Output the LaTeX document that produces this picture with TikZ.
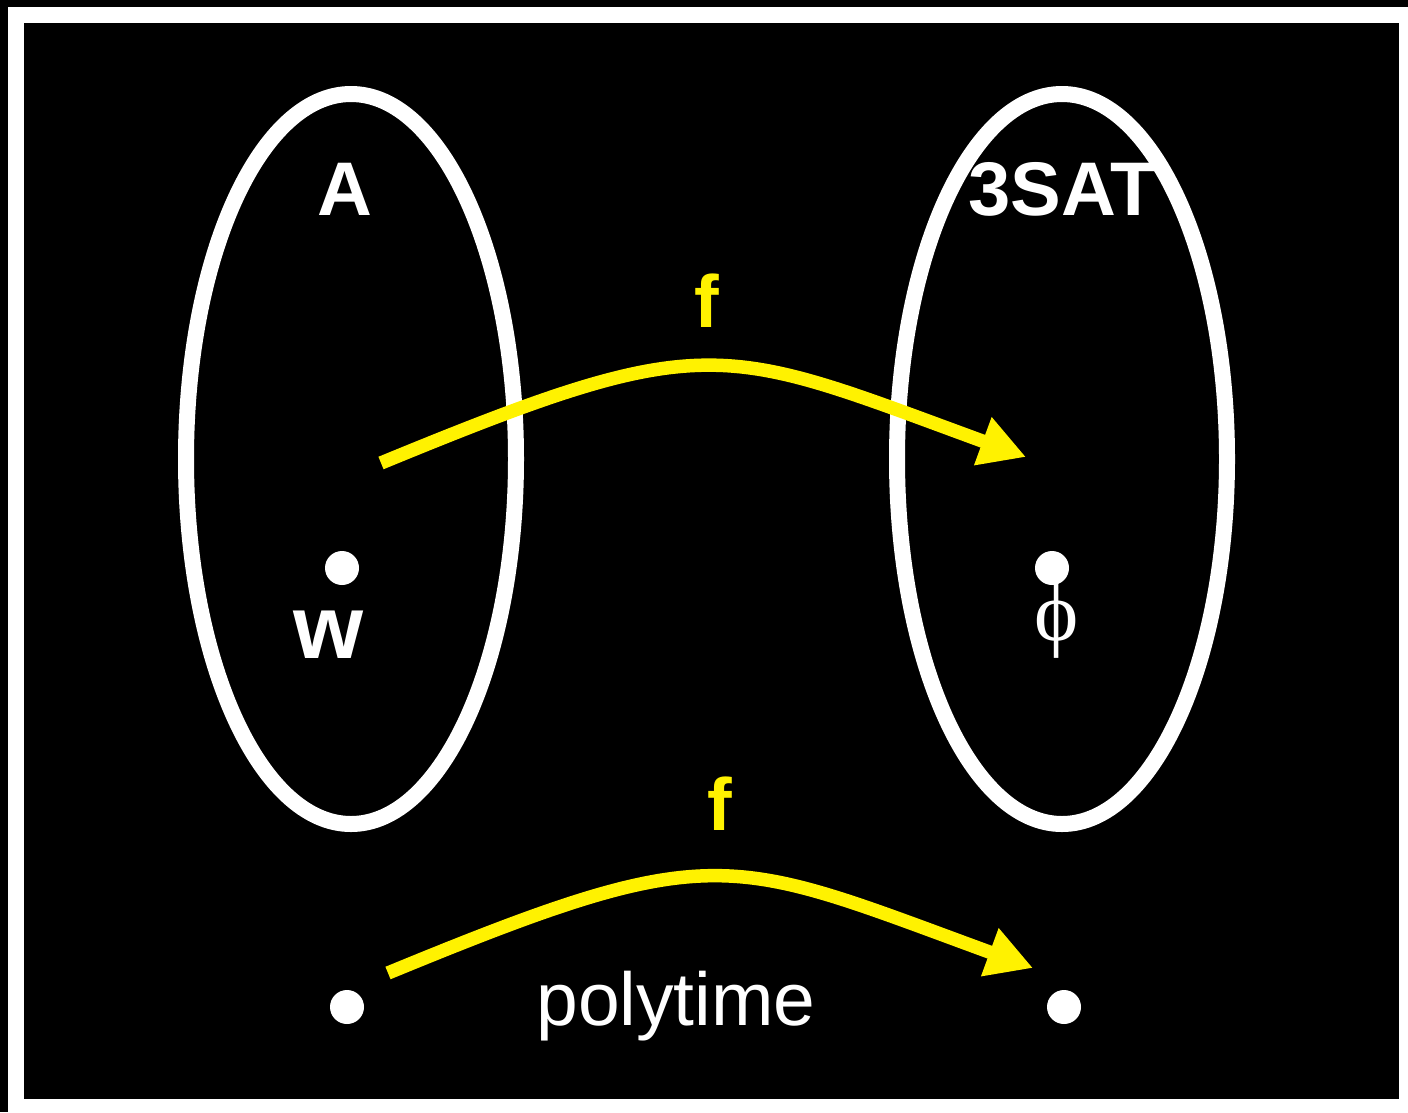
\documentclass[tikz,border=0pt]{standalone}
\usepackage{fontspec}
\setmainfont{Liberation Sans}
\newfontfamily\phifont{Liberation Serif}
\usetikzlibrary{shapes.geometric,arrows.meta}

\begin{document}
\begin{tikzpicture}[x=1pt,y=-1pt,
  set/.style={draw=white, line width=16pt, ellipse, minimum width=330pt,
              minimum height=730pt, inner sep=0pt},
  elem/.style={circle, fill=white, minimum size=34pt, inner sep=0pt},
  lbl/.style={text=white, font=\fontsize{76}{84}\selectfont\bfseries,
              inner sep=0pt, anchor=base},
  fn/.style={lbl, text=yellow, font=\fontsize{74}{80}\selectfont\bfseries},
  map/.style={draw=yellow, line width=13.5pt, -{Triangle[length=46pt,width=48pt]}},
]
  \useasboundingbox (0,0) rectangle (1408,1112);
  \fill[black] (0,0) rectangle (1408,1112);
  \fill[white] (8,7) rectangle (1408,1112);
  \fill[black] (24,23) rectangle (1399,1099);

  % the two languages
  \node[set] (setA) at (351,459) {};
  \node[set] (setS) at (1062,459) {};
  \node[lbl] (nameA) at (345,215) {A};
  \node[lbl] (nameS) at (1063,215) {3SAT};

  % instances
  \node[elem] (w) at (342,568) {};
  \node[elem] (phi) at (1052,568) {};
  \node[lbl, font=\fontsize{90}{100}\selectfont\bfseries] (wl) at (328,658) {w};
  \node[lbl, font=\fontsize{84}{90}\selectfont\phifont] (phil) at (1057,640) {ϕ};

  \node[elem] (x) at (347,1007) {};
  \node[elem] (fx) at (1064,1007) {};
  \node[lbl, font=\fontsize{75}{80}\selectfont] (poly) at (676,1025) {polytime};

  % the reduction f
  \coordinate (m1s) at (381,463);
  \coordinate (m1t) at (1026,457);
  \coordinate (m2s) at (388,973);
  \coordinate (m2t) at (1033,968);
  \draw[map] (m1s) .. controls +(330,-136) and +(-306,-112) .. (m1t);
  \draw[map] (m2s) .. controls +(330,-136) and +(-306,-112) .. (m2t);
  \node[fn] (f1) at (707,327) {f};
  \node[fn] (f2) at (720,830) {f};
\end{tikzpicture}
\end{document}
